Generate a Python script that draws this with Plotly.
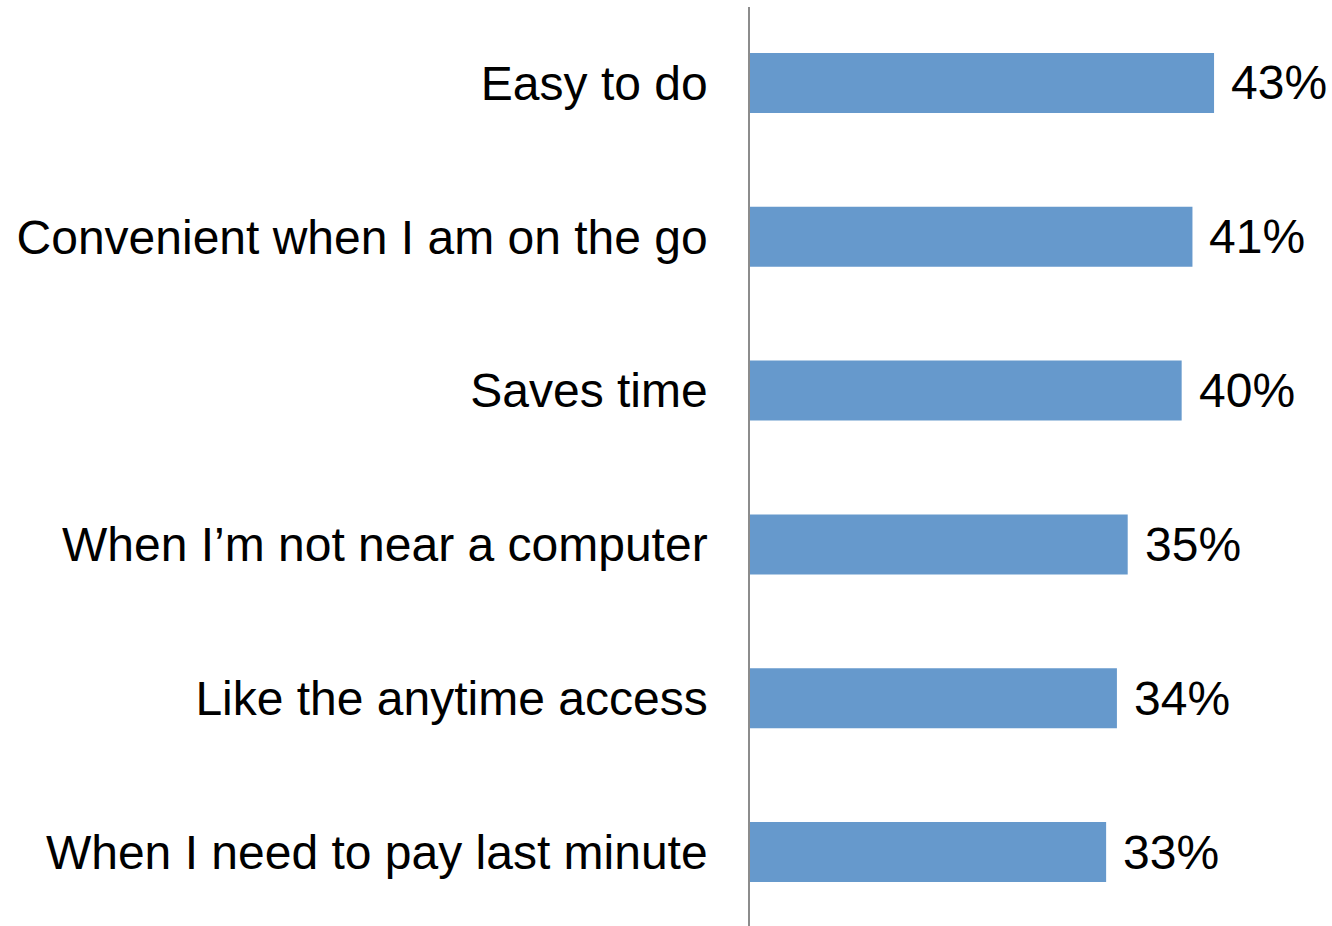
import plotly.graph_objects as go

# Reasons for paying by mobile, ordered top to bottom
categories = [
    "Easy to do",
    "Convenient when I am on the go",
    "Saves time",
    "When I\u2019m not near a computer",
    "Like the anytime access",
    "When I need to pay last minute",
]
values = [43, 41, 40, 35, 34, 33]
value_labels = [f"{v}%" for v in values]

# Plotly draws the first category at the bottom, so reverse for top-down order
cats_plot = categories[::-1]
vals_plot = values[::-1]
labels_plot = value_labels[::-1]

FONT = "Liberation Sans, Arial, sans-serif"
BAR_COLOR = "#6699CC"

fig = go.Figure(
    go.Bar(
        x=vals_plot,
        y=cats_plot,
        orientation="h",
        width=0.39,
        marker=dict(color=BAR_COLOR, line=dict(width=0)),
        hoverinfo="skip",
    )
)

for cat, v, lab in zip(cats_plot, vals_plot, labels_plot):
    fig.add_annotation(
        x=v, y=cat, text=lab, showarrow=False,
        xanchor="left", yanchor="middle", xshift=15,
        font=dict(family=FONT, size=48, color="#000000"),
    )

fig.update_layout(
    width=1332,
    height=926,
    margin=dict(l=750, r=0, t=7, b=0, pad=0),
    paper_bgcolor="white",
    plot_bgcolor="white",
    showlegend=False,
    font=dict(family=FONT, size=48, color="#000000"),
    xaxis=dict(
        range=[0, 53.93],
        visible=False,
        showgrid=False,
        zeroline=False,
    ),
    yaxis=dict(
        type="category",
        categoryorder="array",
        categoryarray=cats_plot,
        range=[-0.481, 5.494],
        showline=True,
        linecolor="#8c8c8c",
        linewidth=1.5,
        showgrid=False,
        zeroline=False,
        ticks="",
        ticklabelstandoff=31,
        tickfont=dict(family=FONT, size=48, color="#000000"),
    ),
)

fig.write_html("out.html")
